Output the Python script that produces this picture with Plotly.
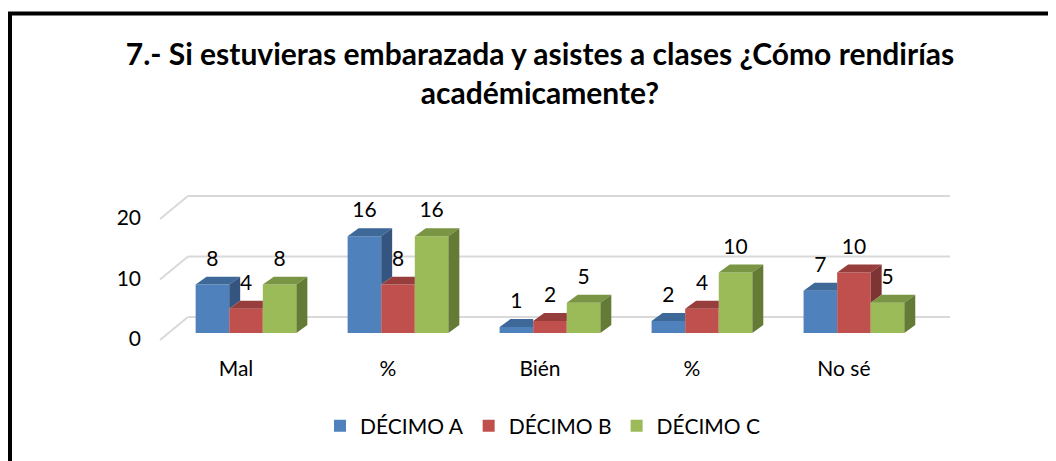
import plotly.graph_objects as go

categories = ["Mal", "%", "Bién", "%", "No sé"]
series_names = ["DÉCIMO A", "DÉCIMO B", "DÉCIMO C"]
decimo_a = [8, 16, 1, 2, 7]
decimo_b = [4, 8, 2, 4, 10]
decimo_c = [8, 16, 5, 10, 5]
y_ticks = [0, 10, 20]

series = [decimo_a, decimo_b, decimo_c]
front_colors = ["#4F81BD", "#C0504D", "#9BBB59"]
top_colors = ["#3D6898", "#973E3C", "#7A9543"]
side_colors = ["#34557F", "#7E3432", "#647B36"]

W, H = 1056, 461
OFF = 8  # page body margin, the figure starts 8px in
# plot area in screen pixels
PX_LEFT, PX_RIGHT, PX_TOP, PX_BOTTOM = 160, 950, 190, 345
L, T = PX_LEFT - OFF, PX_TOP - OFF
R = W - (PX_RIGHT - OFF)
B = H - (PX_BOTTOM - OFF)
X_RANGE = [-0.566, 4.632]
Y_RANGE = [-1.98, 23.64]
BAR_W = 0.221      # width of one bar, in category units
DEPTH_X = 0.072    # fake 3d depth
DEPTH_Y = 1.32
LABEL_LIFT = 4.0
WALL_SHIFT = 2.65  # back wall gridlines sit behind the bars
FLOOR_SHIFT = -1.15
FONT = "Lato"


def paper_x(px):
    return (px - PX_LEFT) / (PX_RIGHT - PX_LEFT)


def paper_y(py):
    return (PX_BOTTOM - py) / (PX_BOTTOM - PX_TOP)


fig = go.Figure()

# front faces
for k, vals in enumerate(series):
    fig.add_trace(go.Bar(
        x=list(range(len(categories))), y=vals, name=series_names[k],
        width=BAR_W, offset=(k - 1.5) * BAR_W,
        marker=dict(color=front_colors[k], line=dict(width=0)),
        hoverinfo="skip",
    ))

# top and side faces, clipped where the neighbour bar hides them
for k, vals in enumerate(series):
    nxt = series[k + 1] if k < len(series) - 1 else None
    tx, ty, sx, sy = [], [], [], []
    for i, v in enumerate(vals):
        xl = i + (k - 1.5) * BAR_W
        xr = xl + BAR_W
        vn = nxt[i] if nxt else None
        if vn is not None and vn > v:
            tx += [xl, xr, xr, xl + DEPTH_X, xl, None]
            ty += [v, v, v + DEPTH_Y, v + DEPTH_Y, v, None]
        else:
            tx += [xl, xr, xr + DEPTH_X, xl + DEPTH_X, xl, None]
            ty += [v, v, v + DEPTH_Y, v + DEPTH_Y, v, None]
        bottom = 0 if vn is None else vn
        if bottom < v:
            sx += [xr, xr + DEPTH_X, xr + DEPTH_X, xr, xr, None]
            sy += [bottom, bottom + DEPTH_Y, v + DEPTH_Y, v, bottom, None]
    fig.add_trace(go.Scatter(x=tx, y=ty, mode="lines", fill="toself",
                             fillcolor=top_colors[k], line=dict(width=0),
                             showlegend=False, hoverinfo="skip"))
    if sx:
        fig.add_trace(go.Scatter(x=sx, y=sy, mode="lines", fill="toself",
                                 fillcolor=side_colors[k], line=dict(width=0),
                                 showlegend=False, hoverinfo="skip"))

# data labels
for k, vals in enumerate(series):
    xs = [i + (k - 1) * BAR_W for i in range(len(vals))]
    fig.add_trace(go.Scatter(
        x=xs, y=[v + LABEL_LIFT for v in vals], mode="text",
        text=[str(v) for v in vals], textposition="middle center",
        textfont=dict(family=FONT, size=21, color="#000000"),
        showlegend=False, hoverinfo="skip", cliponaxis=False,
    ))

shapes = []
for v in y_ticks:
    shapes.append(dict(type="line", xref="paper", yref="y", layer="below",
                       x0=paper_x(188), x1=paper_x(950),
                       y0=v + WALL_SHIFT, y1=v + WALL_SHIFT,
                       line=dict(color="#D9D9D9", width=2)))
    shapes.append(dict(type="line", xref="paper", yref="y", layer="below",
                       x0=paper_x(160), x1=paper_x(188),
                       y0=v + FLOOR_SHIFT, y1=v + WALL_SHIFT,
                       line=dict(color="#D9D9D9", width=2)))
# chart frame (only left and top edges are in view)
shapes.append(dict(type="rect", xref="paper", yref="paper",
                   x0=paper_x(10), x1=paper_x(1200),
                   y0=paper_y(13.5), y1=paper_y(600),
                   line=dict(color="#000000", width=4)))

fig.update_layout(
    width=W, height=H,
    margin=dict(l=L, r=R, t=T, b=B),
    paper_bgcolor="white", plot_bgcolor="white",
    barmode="overlay",
    font=dict(family=FONT, size=21, color="#000000"),
    title=dict(
        text="<b>7.- Si estuvieras embarazada y asistes a clases ¿Cómo rendirías<br>académicamente?</b>",
        xref="container", x=(540 - OFF) / W, xanchor="center",
        yref="container", y=1 - 57 / H, yanchor="top",
        font=dict(family=FONT, size=30, color="#000000"),
    ),
    legend=dict(
        orientation="h", xref="container", x=(543 - OFF) / W, xanchor="center",
        yref="container", y=1 - (426 - OFF) / H, yanchor="middle",
        font=dict(family=FONT, size=21, color="#000000"),
        traceorder="normal",
    ),
    shapes=shapes,
    xaxis=dict(range=X_RANGE, tickvals=list(range(len(categories))), ticktext=categories,
               showgrid=False, zeroline=False, showline=False,
               ticklabelshift=-10, ticklabelstandoff=9, fixedrange=True),
    yaxis=dict(range=Y_RANGE, tickvals=y_ticks, showgrid=False, zeroline=False,
               showline=False, ticklabelshift=6, ticklabelstandoff=18, fixedrange=True),
)

fig.write_html("out.html")
